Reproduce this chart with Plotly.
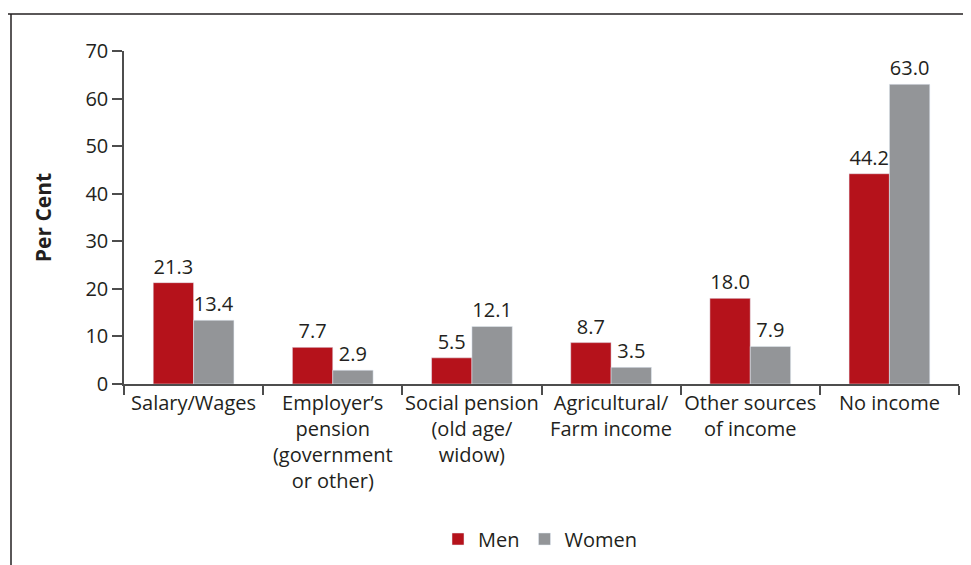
import plotly.graph_objects as go

categories = ["Salary/Wages", "Employer’s<br>pension<br>(government<br>or other)",
              "Social pension<br>(old age/<br>widow)", "Agricultural/<br>Farm income",
              "Other sources<br>of income", "No income"]
men = [21.3, 7.7, 5.5, 8.7, 18.0, 44.2]
women = [13.4, 2.9, 12.1, 3.5, 7.9, 63.0]
y_ticks = [0, 10, 20, 30, 40, 50, 60, 70]

FONT = "Open Sans"
RED = "#B5121B"
GREY = "#939598"
DARK = "#231F20"
FS = 20

fig = go.Figure()
fig.add_trace(go.Bar(name="Men", x=categories, y=men, marker_color=RED,
                     text=[f"{v:.1f}" for v in men], textposition="outside",
                     textfont=dict(size=FS, color=DARK, family=FONT), cliponaxis=False))
fig.add_trace(go.Bar(name="Women", x=categories, y=women, marker_color=GREY,
                     text=[f"{v:.1f}" for v in women], textposition="outside",
                     textfont=dict(size=FS, color=DARK, family=FONT), cliponaxis=False))

# page has an 8px body margin; figure drawn at offset (8, 8)
OFF = 8
W, H = 971 - OFF, 565 - OFF
L, T = 124 - OFF, 51 - OFF
R = W - (959 - OFF)
B = H - (384 - OFF)
pw, ph = W - L - R, H - T - B

def px(x):
    return (x - OFF - L) / pw

def py(y):
    return (H - B - (y - OFF)) / ph

fig.update_layout(
    width=W, height=H,
    margin=dict(l=L, r=R, t=T, b=B, autoexpand=False),
    paper_bgcolor="white", plot_bgcolor="white",
    font=dict(family=FONT, size=FS, color=DARK),
    barmode="group", bargap=0.42, bargroupgap=0,
    showlegend=True,
    legend=dict(orientation="h", x=px(540), xanchor="center", y=py(539), yanchor="middle",
                font=dict(size=FS, family=FONT), traceorder="normal"),
    xaxis=dict(showline=True, linecolor="#4D4D4D", linewidth=1.5, ticks="outside",
               tickson="boundaries", ticklen=9, tickcolor="#4D4D4D", tickwidth=1.5,
               tickangle=0, tickfont=dict(size=FS), showgrid=False, automargin=False),
    yaxis=dict(range=[0, 70], tickvals=y_ticks, showline=True, linecolor="#4D4D4D",
               linewidth=1.5, ticks="outside", ticklen=10, tickcolor="#4D4D4D", tickwidth=1.5,
               tickfont=dict(size=FS), showgrid=False, zeroline=False, automargin=False,
               title=dict(text="<b>Per Cent</b>", font=dict(size=21), standoff=28)),
    shapes=[
        dict(type="line", xref="paper", yref="paper", x0=px(0), x1=px(980), y0=py(14), y1=py(14),
             line=dict(color=DARK, width=1.5)),
        dict(type="line", xref="paper", yref="paper", x0=px(11), x1=px(11), y0=py(14), y1=py(580),
             line=dict(color=DARK, width=1.5)),
    ],
)

fig.write_html("out.html")
